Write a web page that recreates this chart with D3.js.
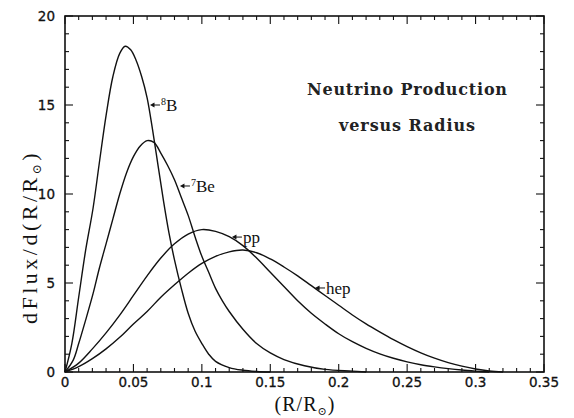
<!DOCTYPE html>
<meta charset="utf-8">
<script src="https://d3js.org/d3.v7.min.js"></script>
<style>
    body { margin: 0; background: #fff; }
    .tick-lbl { font-family: "DejaVu Sans", sans-serif; font-size: 13.5px; fill: #111; stroke: #111; stroke-width: 0.3; }
    .ser { font-family: "Liberation Serif", "DejaVu Serif", serif; fill: #111; }
</style>
<div id="vis"></div>
<script>
    // data: radius (R/Rsun) and flux per unit radius
    var xB8 = [0, 0.005, 0.01, 0.015, 0.0205, 0.025, 0.03, 0.035, 0.04, 0.044, 0.048, 0.052, 0.056, 0.06, 0.064, 0.068, 0.072, 0.076, 0.08, 0.085, 0.09, 0.095, 0.1, 0.105, 0.11, 0.12, 0.13, 0.14, 0.15];
    var yB8 = [0, 1.6, 4.2, 6.8, 9.2, 11.7, 14.4, 16.6, 17.9, 18.3, 18.1, 17.5, 16.6, 15.4, 13.6, 11.6, 9.6, 7.8, 6.3, 4.7, 3.3, 2.3, 1.6, 1.0, 0.6, 0.25, 0.1, 0.03, 0];

    var xBe7 = [0, 0.006, 0.01, 0.015, 0.0205, 0.025, 0.03, 0.035, 0.04, 0.045, 0.05, 0.055, 0.06, 0.065, 0.07, 0.075, 0.08, 0.085, 0.09, 0.095, 0.1, 0.105, 0.11, 0.115, 0.12, 0.13, 0.14, 0.15, 0.16, 0.175, 0.19, 0.21, 0.22];
    var yBe7 = [0, 0.67, 1.6, 2.9, 4.4, 5.8, 7.2, 8.6, 10.0, 11.2, 12.1, 12.7, 13.0, 12.9, 12.3, 11.6, 10.8, 9.8, 8.8, 7.6, 6.5, 5.6, 4.7, 4.0, 3.4, 2.4, 1.6, 1.07, 0.7, 0.35, 0.15, 0.05, 0];

    var xPP = [0, 0.01, 0.02, 0.03, 0.04, 0.05, 0.06, 0.07, 0.08, 0.09, 0.1, 0.11, 0.12, 0.13, 0.14, 0.15, 0.16, 0.17, 0.18, 0.19, 0.2, 0.21, 0.22, 0.23, 0.24, 0.25, 0.26, 0.27, 0.28, 0.29, 0.3, 0.31];
    var yPP = [0, 0.5, 1.3, 2.2, 3.2, 4.3, 5.4, 6.4, 7.2, 7.75, 8.0, 7.9, 7.6, 7.1, 6.4, 5.6, 4.8, 4.0, 3.3, 2.7, 2.15, 1.7, 1.33, 1.02, 0.77, 0.57, 0.41, 0.29, 0.19, 0.11, 0.05, 0];

    var xHep = [0, 0.01, 0.02, 0.03, 0.04, 0.05, 0.06, 0.07, 0.08, 0.09, 0.1, 0.11, 0.12, 0.13, 0.14, 0.15, 0.16, 0.17, 0.18, 0.19, 0.2, 0.21, 0.22, 0.23, 0.24, 0.25, 0.26, 0.27, 0.28, 0.29, 0.3, 0.31, 0.32];
    var yHep = [0, 0.3, 0.75, 1.3, 1.95, 2.7, 3.4, 4.2, 4.9, 5.55, 6.1, 6.5, 6.75, 6.85, 6.7, 6.35, 5.9, 5.4, 4.85, 4.3, 3.75, 3.2, 2.7, 2.25, 1.82, 1.43, 1.08, 0.78, 0.53, 0.33, 0.17, 0.06, 0];

    var xTicks = [0, 0.05, 0.1, 0.15, 0.2, 0.25, 0.3, 0.35];
    var xTickLbl = ["0", "0.05", "0.1", "0.15", "0.2", "0.25", "0.3", "0.35"];
    var yTicks = [0, 5, 10, 15, 20];

    // curve labels: arrow tip position in data units
    var lblNames = ["B", "Be", "pp", "hep"];
    var lblSup = ["8", "7", "", ""];
    var lblX = [0.0621, 0.084, 0.122, 0.1827];
    var lblY = [15.0, 10.45, 7.58, 4.72];

    var series = [
        { x: xB8, y: yB8 },
        { x: xBe7, y: yBe7 },
        { x: xPP, y: yPP },
        { x: xHep, y: yHep }
    ];

    // dimensions
    var W = 574, H = 418;
    var mgn = { top: 16, rgt: 30, btm: 46, lft: 65 },
        wid = W - mgn.lft - mgn.rgt,
        hgt = H - mgn.top - mgn.btm;

    var root = d3.select("#vis").append("svg")
        .attr("width", W)
        .attr("height", H);
    var svg = root.append("g")
        .attr("transform", "translate(" + mgn.lft + "," + mgn.top + ")");

    var x = d3.scaleLinear().domain([0, 0.35]).range([0, wid]);
    var y = d3.scaleLinear().domain([0, 20]).range([hgt, 0]);

    // frame
    svg.append("rect")
        .attr("x", 0).attr("y", 0)
        .attr("width", wid).attr("height", hgt)
        .attr("fill", "none")
        .attr("stroke", "#111")
        .attr("stroke-width", 1.6);

    // ticks on all four sides, pointing inward
    var xMinor = d3.range(0, 0.3501, 0.01);
    var yMinor = d3.range(0, 20.01, 1);
    function tickLen(v, step) { return Math.abs(v / step - Math.round(v / step)) < 1e-6 ? 8 : 4; }

    var tk = svg.append("g").attr("stroke", "#111").attr("stroke-width", 1.1);
    xMinor.forEach(function (v) {
        var L = tickLen(v, 0.05);
        tk.append("line").attr("x1", x(v)).attr("x2", x(v)).attr("y1", hgt).attr("y2", hgt - L);
        tk.append("line").attr("x1", x(v)).attr("x2", x(v)).attr("y1", 0).attr("y2", L);
    });
    yMinor.forEach(function (v) {
        var L = tickLen(v, 5);
        tk.append("line").attr("x1", 0).attr("x2", L).attr("y1", y(v)).attr("y2", y(v));
        tk.append("line").attr("x1", wid).attr("x2", wid - L).attr("y1", y(v)).attr("y2", y(v));
    });

    // tick labels
    svg.append("g").selectAll("text")
        .data(xTicks)
        .enter().append("text")
        .attr("class", "tick-lbl")
        .attr("x", function (d) { return x(d); })
        .attr("y", hgt + 15)
        .attr("text-anchor", "middle")
        .text(function (d, i) { return xTickLbl[i]; });
    svg.append("g").selectAll("text")
        .data(yTicks)
        .enter().append("text")
        .attr("class", "tick-lbl")
        .attr("x", -10)
        .attr("y", function (d) { return y(d) + 5; })
        .attr("text-anchor", "end")
        .text(function (d) { return d; });

    // curves
    var line = d3.line()
        .x(function (d) { return x(d[0]); })
        .y(function (d) { return y(Math.max(0, d[1])); })
        .curve(d3.curveCatmullRom.alpha(0.5));
    series.forEach(function (s) {
        svg.append("path")
            .datum(s.x.map(function (v, i) { return [v, s.y[i]]; }))
            .attr("d", line)
            .attr("fill", "none")
            .attr("stroke", "#111")
            .attr("stroke-width", 1.4);
    });

    // curve labels with small arrows
    lblNames.forEach(function (nm, i) {
        var px = x(lblX[i]), py = y(lblY[i]);
        var g = svg.append("g");
        g.append("line")
            .attr("x1", px + 2).attr("x2", px + 10)
            .attr("y1", py).attr("y2", py)
            .attr("stroke", "#111").attr("stroke-width", 1);
        g.append("path")
            .attr("d", "M" + px + "," + py + "l4.5,-2.5l0,5z")
            .attr("fill", "#111");
        var t = g.append("text")
            .attr("class", "ser")
            .attr("x", px + 11)
            .attr("y", py + 6)
            .style("font-size", "17px");
        if (lblSup[i]) {
            t.append("tspan").text(lblSup[i])
                .style("font-size", "10px")
                .attr("dy", -6);
            t.append("tspan").text(nm).attr("dy", 6);
        } else {
            t.text(nm);
        }
    });

    // title block
    svg.append("text")
        .attr("x", 407 - mgn.lft)
        .attr("y", 95 - mgn.top)
        .attr("text-anchor", "middle")
        .style("font-family", "'DejaVu Serif', serif")
        .style("font-weight", "bold")
        .style("font-size", "16px")
        .style("fill", "#222")
        .attr("textLength", 200)
        .text("Neutrino Production");
    svg.append("text")
        .attr("x", 407 - mgn.lft)
        .attr("y", 131 - mgn.top)
        .attr("text-anchor", "middle")
        .style("font-family", "'DejaVu Serif', serif")
        .style("font-weight", "bold")
        .style("font-size", "16px")
        .style("fill", "#222")
        .attr("textLength", 136)
        .text("versus Radius");

    // axis titles
    var xt = svg.append("text")
        .attr("class", "ser")
        .attr("x", 305 - mgn.lft)
        .attr("y", hgt + 39)
        .attr("text-anchor", "middle")
        .style("font-size", "20px")
        .style("letter-spacing", "1px");
    xt.append("tspan").text("(R/R");
    xt.append("tspan").text("\u2299").style("font-size", "11px").attr("dy", 4);
    xt.append("tspan").text(")").attr("dy", -4);

    var yt = svg.append("text")
        .attr("class", "ser")
        .attr("transform", "translate(" + (37 - mgn.lft) + "," + (237 - mgn.top) + ") rotate(-90)")
        .attr("text-anchor", "middle")
        .style("font-size", "22px")
        .style("letter-spacing", "3.5px");
    yt.append("tspan").text("dFlux/d(R/R");
    yt.append("tspan").text("\u2299").style("font-size", "12px").attr("dy", 4);
    yt.append("tspan").text(")").attr("dy", -4);
</script>
